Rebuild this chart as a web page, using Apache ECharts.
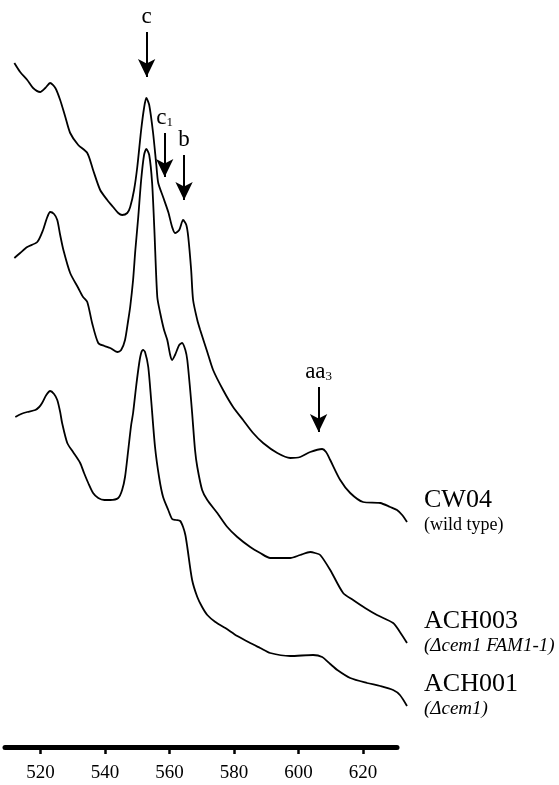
<!DOCTYPE html>
<html>
<head>
<meta charset="utf-8">
<script src="https://cdn.jsdelivr.net/npm/echarts@6/dist/echarts.min.js"></script>
<style>html,body{margin:0;padding:0;background:#fff}#c{width:559px;height:785px}</style>
</head>
<body>
<div id="c"></div>
<script>
// Wavelength (nm) and relative absorbance for each strain
const cw04Wl = [511.9,513.7,515.9,517.7,519.9,521.5,523.0,524.6,526.1,527.7,529.2,531.7,534.5,536.3,538.5,540.7,542.5,544.1,545.3,546.9,547.8,549.0,550.0,551.2,552.1,552.8,553.7,554.9,555.9,556.5,558.0,559.6,560.8,561.7,563.0,564.2,565.2,565.8,566.7,567.3,568.6,569.5,571.7,573.5,576.6,579.7,582.8,585.9,589.0,593.4,597.4,600.5,603.6,607.3,608.5,609.8,612.9,616.0,620.0,625.3,628.4,630.5,632.1,633.6];
const cw04Abs = [0.684,0.675,0.667,0.659,0.655,0.659,0.664,0.659,0.647,0.630,0.614,0.602,0.594,0.577,0.557,0.547,0.540,0.534,0.532,0.534,0.540,0.557,0.580,0.617,0.639,0.649,0.642,0.614,0.582,0.564,0.550,0.535,0.520,0.514,0.517,0.527,0.522,0.510,0.477,0.447,0.427,0.417,0.395,0.377,0.357,0.340,0.327,0.314,0.304,0.294,0.289,0.290,0.295,0.298,0.295,0.287,0.267,0.254,0.245,0.244,0.240,0.237,0.232,0.225];

const ach003Wl = [511.9,513.7,515.9,519.0,520.8,522.0,523.0,524.2,525.2,526.1,527.1,529.2,531.7,533.2,534.5,536.0,537.9,539.8,541.6,543.8,545.0,546.2,547.2,547.8,548.7,549.4,550.3,551.2,552.1,552.8,553.7,554.6,555.3,556.2,557.1,558.3,559.3,560.2,560.8,561.7,563.0,563.9,564.9,565.5,566.4,567.0,567.9,568.6,570.1,571.7,574.8,577.9,581.0,585.0,588.1,591.2,594.3,597.4,600.5,603.6,605.1,606.7,609.8,613.8,616.9,620.6,624.3,629.3,631.4,633.6];
const ach003Abs = [0.489,0.494,0.500,0.505,0.517,0.529,0.535,0.533,0.527,0.512,0.497,0.474,0.459,0.450,0.445,0.424,0.404,0.401,0.399,0.395,0.397,0.407,0.427,0.440,0.467,0.497,0.530,0.567,0.592,0.598,0.592,0.564,0.517,0.450,0.434,0.417,0.407,0.392,0.387,0.392,0.402,0.404,0.397,0.387,0.357,0.334,0.297,0.280,0.257,0.247,0.234,0.220,0.210,0.200,0.194,0.189,0.189,0.189,0.192,0.195,0.194,0.192,0.177,0.154,0.147,0.139,0.132,0.124,0.115,0.104];

const ach001Wl = [512.2,514.0,515.9,518.4,519.6,520.5,521.8,523.0,524.2,525.2,526.1,526.7,528.3,530.1,532.3,533.5,534.8,536.3,537.9,539.8,541.6,544.1,545.3,546.2,547.2,548.1,548.7,549.7,550.6,551.2,551.8,552.4,553.4,554.3,555.5,556.8,558.0,559.6,560.8,562.0,563.3,564.2,564.9,565.5,567.0,568.6,570.1,571.7,574.2,577.3,581.0,585.0,588.1,591.2,597.4,604.5,607.3,609.8,612.0,616.0,621.2,625.3,629.3,631.4,633.6];
const ach001Abs = [0.330,0.333,0.335,0.337,0.340,0.344,0.352,0.356,0.353,0.347,0.335,0.324,0.304,0.295,0.284,0.274,0.264,0.254,0.249,0.247,0.247,0.249,0.257,0.270,0.297,0.322,0.334,0.362,0.384,0.394,0.397,0.395,0.380,0.347,0.300,0.269,0.250,0.237,0.228,0.227,0.226,0.220,0.212,0.200,0.167,0.150,0.140,0.132,0.125,0.119,0.111,0.104,0.099,0.094,0.091,0.092,0.090,0.083,0.077,0.069,0.064,0.061,0.057,0.052,0.041];

const tickLabels = [520, 540, 560, 580, 600, 620];

// Peak annotations: label, wavelength, arrow start and tip absorbance
const annLabels = ['c', 'c1', 'b', 'aa3'];
const annWl = [552.9, 558.5, 564.5, 606.2];
const annFrom = [0.715, 0.614, 0.592, 0.360];
const annTo = [0.670, 0.570, 0.547, 0.315];

const serif = 'Liberation Serif, Times New Roman, serif';
const chart = echarts.init(document.getElementById('c'), null, {renderer: 'canvas'});

function zip(a, b) { return a.map((v, i) => [v, b[i]]); }

function annFormatter(name) {
  if (name === 'c1') return 'c{sub|1}';
  if (name === 'aa3') return 'aa{sub|3}';
  return name;
}

const markData = annLabels.map((n, i) => [
  {name: n, coord: [annWl[i], annFrom[i]]},
  {coord: [annWl[i], annTo[i]]}
]);

const lineBase = {
  type: 'line', showSymbol: false, symbol: 'none', clip: false, smooth: 0.25,
  xAxisIndex: 0, yAxisIndex: 0,
  lineStyle: {color: '#000', width: 1.8}, silent: true
};

function endLabel(name, sub, italic) {
  return {
    show: true, offset: [9, -11], formatter: '{n|' + name + '}\n{s|' + sub + '}',
    rich: {
      n: {fontFamily: serif, fontSize: 26, lineHeight: 28, color: '#000'},
      s: {fontFamily: serif, fontSize: italic ? 19 : 18, fontStyle: italic ? 'italic' : 'normal', lineHeight: 22, color: '#000'}
    }
  };
}

// 3.2263 px per nm in both grids
chart.setOption({
  animation: false,
  backgroundColor: '#fff',
  grid: [
    {left: 5, right: 150.7, top: 0, bottom: 38, outerBoundsMode: 'none', containLabel: false},
    {left: 5, right: 162, top: 0, bottom: 38, outerBoundsMode: 'none', containLabel: false}
  ],
  xAxis: [
    {type: 'value', gridIndex: 0, min: 509, max: 634, show: false, splitLine: {show: false}},
    {
      type: 'value', gridIndex: 1, min: 509, max: 630.5,
      splitLine: {show: false},
      axisLine: {show: true, lineStyle: {color: '#000', width: 5}},
      axisTick: {show: true, customValues: tickLabels, length: 7, lineStyle: {color: '#000', width: 2.5}},
      axisLabel: {show: true, customValues: tickLabels, color: '#000', fontFamily: serif, fontSize: 19, margin: 17}
    }
  ],
  yAxis: [
    {type: 'value', gridIndex: 0, min: 0, max: 0.747, show: false, splitLine: {show: false}},
    {type: 'value', gridIndex: 1, min: 0, max: 0.747, show: false, splitLine: {show: false}}
  ],
  series: [
    Object.assign({}, lineBase, {
      name: 'CW04', data: zip(cw04Wl, cw04Abs),
      endLabel: endLabel('CW04', '(wild type)', false),
      markLine: {
        silent: true, animation: false,
        symbol: ['none', 'arrow'], symbolSize: [13, 18],
        lineStyle: {color: '#000', width: 2, type: 'solid'},
        label: {
          show: true, position: 'start', distance: 4,
          formatter: p => annFormatter(p.name),
          color: '#000', fontFamily: serif, fontSize: 23,
          rich: {sub: {fontFamily: serif, fontSize: 13, color: '#000', padding: [10, 0, 0, 0]}}
        },
        data: markData
      }
    }),
    Object.assign({}, lineBase, {
      name: 'ACH003', data: zip(ach003Wl, ach003Abs),
      endLabel: endLabel('ACH003', '(Δcem1 FAM1-1)', true)
    }),
    Object.assign({}, lineBase, {
      name: 'ACH001', data: zip(ach001Wl, ach001Abs),
      endLabel: endLabel('ACH001', '(Δcem1)', true)
    }),
    {type: 'line', xAxisIndex: 1, yAxisIndex: 1, data: [], silent: true, showSymbol: false}
  ]
});
</script>
</body>
</html>
